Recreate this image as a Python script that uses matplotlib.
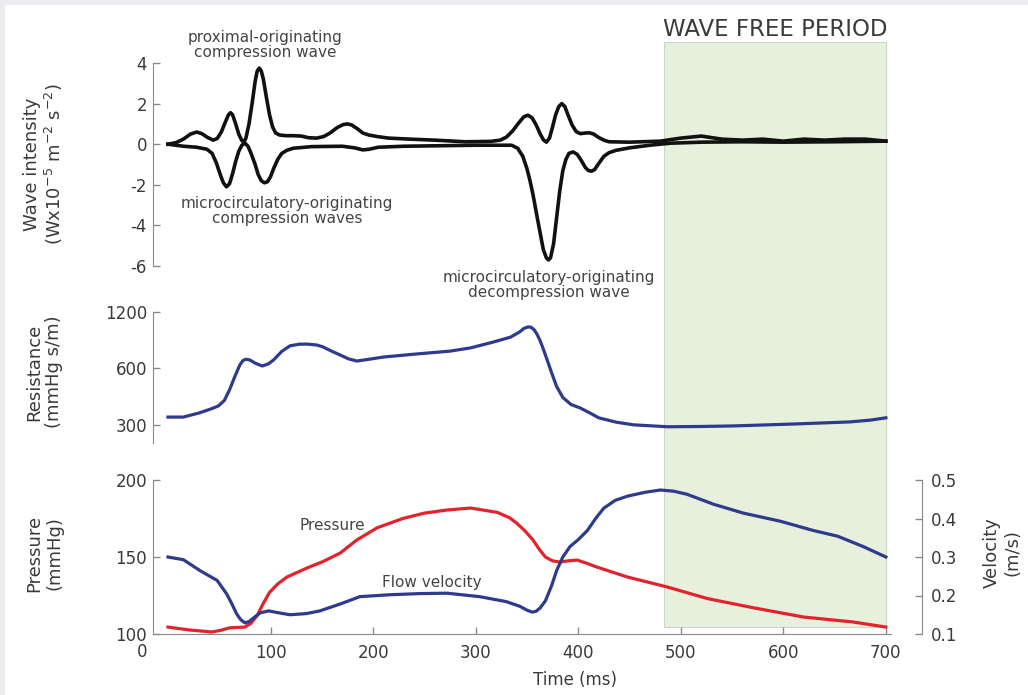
import matplotlib
matplotlib.use('Agg')
import matplotlib.pyplot as plt
from matplotlib.patches import Rectangle
from matplotlib.transforms import blended_transform_factory

# Wave intensity - forward (upper) trace, time in ms.
wi_up_t = [0, 8, 15, 22, 28, 33, 38, 44, 48, 52, 56, 59, 61, 63, 66, 69, 72, 74,
           76, 79, 82, 85, 87, 89, 91, 93, 96, 99, 102, 105, 109, 115, 122, 130,
           137, 145, 152, 158, 165, 171, 175, 179, 185, 190, 196, 205, 215, 236,
           260, 290, 315, 324, 330, 336, 342, 347, 351, 355, 359, 363, 366, 369,
           372, 375, 378, 381, 384, 387, 390, 394, 398, 402, 407, 411, 415, 420,
           425, 430, 450, 480, 500, 520, 540, 560, 580, 600, 620, 640, 660, 680,
           700]
wi_up = [0.0, 0.08, 0.25, 0.5, 0.6, 0.52, 0.35, 0.2, 0.28, 0.6, 1.1, 1.45, 1.55,
         1.45, 1.0, 0.5, 0.18, 0.1, 0.3, 1.0, 2.0, 3.1, 3.6, 3.75, 3.6, 3.2, 2.3,
         1.45, 0.85, 0.55, 0.45, 0.42, 0.42, 0.4, 0.32, 0.3, 0.38, 0.55, 0.82,
         0.97, 1.0, 0.95, 0.75, 0.55, 0.45, 0.37, 0.3, 0.25, 0.2, 0.12, 0.14, 0.2,
         0.35, 0.65, 1.05, 1.35, 1.43, 1.3, 0.95, 0.5, 0.22, 0.1, 0.3, 0.85, 1.45,
         1.85, 2.0, 1.85, 1.45, 0.95, 0.62, 0.52, 0.55, 0.56, 0.5, 0.33, 0.2, 0.12,
         0.1, 0.15, 0.3, 0.4, 0.25, 0.2, 0.25, 0.15, 0.25, 0.2, 0.25, 0.25, 0.15]

# Wave intensity - backward (lower) trace.
wi_dn_t = [0, 15, 28, 38, 43, 47, 51, 54, 57, 60, 63, 66, 69, 72, 75, 78, 81, 85,
           88, 91, 94, 97, 100, 103, 107, 111, 116, 122, 140, 170, 182, 190, 196,
           205, 230, 260, 300, 335, 341, 346, 350, 353, 356, 360, 363, 366, 369,
           371, 373, 376, 379, 382, 385, 388, 391, 395, 399, 403, 407, 410, 413,
           416, 420, 425, 430, 437, 450, 470, 490, 520, 560, 600, 650, 700]
wi_dn = [0.0, -0.1, -0.15, -0.25, -0.45, -0.9, -1.5, -1.9, -2.1, -1.95, -1.45,
         -0.85, -0.35, -0.05, 0.05, -0.1, -0.45, -1.0, -1.5, -1.8, -1.9, -1.85,
         -1.6, -1.2, -0.75, -0.45, -0.3, -0.2, -0.12, -0.1, -0.18, -0.28, -0.25,
         -0.15, -0.1, -0.08, -0.05, -0.05, -0.2, -0.6, -1.2, -1.8, -2.5, -3.6,
         -4.4, -5.2, -5.6, -5.7, -5.6, -4.9, -3.6, -2.3, -1.3, -0.75, -0.45, -0.38,
         -0.5, -0.8, -1.15, -1.3, -1.33, -1.25, -0.95, -0.6, -0.42, -0.3, -0.18,
         -0.05, 0.05, 0.1, 0.12, 0.1, 0.12, 0.15]

# Microvascular resistance.
res_t = [0, 15, 31, 42, 49, 55, 60, 65, 70, 73, 76, 80, 85, 92, 98, 103, 111, 119,
         128, 136, 145, 151, 160, 168, 176, 184, 195, 210, 243, 275, 295, 317,
         334, 343, 347, 351, 354, 357, 360, 363, 366, 370, 374, 379, 385, 393,
         402, 411, 420, 437, 454, 487, 520, 551, 585, 617, 665, 685, 700]
resistance = [330, 330, 348, 365, 378, 405, 461, 540, 625, 660, 672, 665, 640,
              618, 635, 666, 740, 792, 808, 809, 800, 782, 740, 707, 675, 657, 670,
              690, 717, 742, 772, 829, 881, 940, 980, 999, 995, 965, 910, 840, 760,
              660, 570, 480, 420, 385, 369, 348, 327, 310, 300, 293, 294, 296, 300,
              304, 311, 318, 327]

# Pressure (mmHg).
p_t = [0, 21, 43, 52, 60, 75, 81, 87, 93, 99, 107, 116, 136, 151, 168, 184, 204,
       229, 250, 272, 295, 321, 333, 340, 348, 356, 362, 368, 375, 382, 390, 399,
       408, 418, 448, 487, 526, 571, 620, 668, 700]
pressure = [104.5, 102.6, 101.3, 102.5, 104, 104.5, 107, 112, 120, 127, 132.5,
            137, 143, 147, 152.6, 161, 169, 175, 178.5, 180.5, 181.8, 179, 175.5,
            172, 167, 161, 155, 150, 147.5, 146.7, 147.5, 148, 146, 143.5, 137,
            130.5, 123, 117, 111, 107.8, 104.5]

# Flow velocity (m/s).
v_t = [0, 15, 31, 48, 57, 62, 67, 71, 75, 79, 84, 90, 98, 108, 119, 135, 148,
       168, 187, 217, 246, 272, 304, 330, 343, 350, 355, 359, 363, 368, 374, 379,
       385, 392, 400, 409, 417, 425, 436, 448, 465, 480, 493, 506, 532, 561, 597,
       629, 653, 678, 700]
velocity = [0.30, 0.293, 0.265, 0.239, 0.205, 0.18, 0.152, 0.137, 0.129, 0.132,
            0.143, 0.155, 0.16, 0.155, 0.15, 0.153, 0.16, 0.178, 0.197, 0.202,
            0.205, 0.206, 0.197, 0.184, 0.172, 0.162, 0.157, 0.159, 0.168, 0.186,
            0.225, 0.265, 0.3, 0.327, 0.345, 0.369, 0.40, 0.427, 0.447, 0.458,
            0.468, 0.474, 0.471, 0.463, 0.437, 0.414, 0.393, 0.369, 0.354, 0.327,
            0.30]

# Wave free period window (ms).
wfp_start, wfp_end = 484, 700

plt.rcParams['font.family'] = 'DejaVu Sans'
plt.rcParams['axes.unicode_minus'] = False

W, H = 1028, 695
fig = plt.figure(figsize=(W / 100, H / 100), dpi=100)
fig.patch.set_facecolor('#eaecef')
fig.add_artist(Rectangle((5 / W, 0), 1, 1 - 5 / H, transform=fig.transFigure,
                         facecolor='white', edgecolor='none', zorder=-2))

left, width = 152.6 / W, 738.4 / W
ax_top = fig.add_axes([left, 429 / H, width, 203 / H])
ax_mid = fig.add_axes([left, 252 / H, width, 131 / H])
ax_bot = fig.add_axes([left, 61 / H, width, 154 / H])
ax_vel = ax_bot.twinx()

blue = '#2e3a8c'
red = '#e2232b'
spine_c = '#8a8a8a'
text_c = '#3a3a3a'

for ax in (ax_top, ax_mid, ax_bot, ax_vel):
    ax.set_facecolor('none')
    ax.set_xlim(-15, 705)
    for side in ('top', 'right', 'bottom', 'left'):
        ax.spines[side].set_visible(False)
        ax.spines[side].set_color(spine_c)
    ax.tick_params(direction='in', length=5, width=1, color=spine_c,
                   labelcolor=text_c, labelsize=12, pad=4)

for ax in (ax_top, ax_mid):
    ax.spines['left'].set_visible(True)
    ax.tick_params(bottom=False, labelbottom=False)
ax_bot.spines['left'].set_visible(True)
ax_bot.spines['bottom'].set_visible(True)
ax_vel.spines['right'].set_visible(True)
ax_vel.spines['right'].set_position(('outward', 22))

# Wave free period shading across all panels.
trans = blended_transform_factory(ax_top.transData, fig.transFigure)
fig.add_artist(Rectangle((wfp_start, 68 / H), wfp_end - wfp_start, (627 - 42) / H,
                         transform=trans, facecolor='#e6f0dc', edgecolor='#cdd6c6',
                         linewidth=0.8, zorder=-1))
fig.text(775 / W, 1 - 30 / H, 'WAVE FREE PERIOD', ha='center', va='center',
         fontsize=16.5, color=text_c)

# Top panel: wave intensity.
ax_top.plot(wi_up_t, wi_up, color='#111111', lw=2.6, solid_joinstyle='round')
ax_top.plot(wi_dn_t, wi_dn, color='#111111', lw=2.6, solid_joinstyle='round')
ax_top.set_ylim(-6, 4)
ax_top.set_yticks([-6, -4, -2, 0, 2, 4])

# Middle panel: resistance (log scale).
ax_mid.plot(res_t, resistance, color=blue, lw=2.3, solid_joinstyle='round')
ax_mid.set_yscale('log')
ax_mid.set_ylim(240, 1200)
ax_mid.set_yticks([300, 600, 1200])
ax_mid.set_yticklabels(['300', '600', '1200'])
ax_mid.minorticks_off()

# Bottom panel: pressure and velocity.
ax_bot.plot(p_t, pressure, color=red, lw=2.3, solid_joinstyle='round')
ax_vel.plot(v_t, velocity, color=blue, lw=2.3, solid_joinstyle='round')
ax_bot.set_ylim(100, 200)
ax_bot.set_yticks([100, 150, 200])
ax_vel.set_ylim(0.1, 0.5)
ax_vel.set_yticks([0.1, 0.2, 0.3, 0.4, 0.5])
ax_vel.tick_params(pad=7)
ax_bot.set_xticks([100, 200, 300, 400, 500, 600, 700])
ax_bot.tick_params(axis='x', pad=7)
fig.text(142 / W, 1 - 652 / H, '0', ha='center', va='center', fontsize=12,
         color=text_c)
fig.text(575 / W, 1 - 680 / H, 'Time (ms)', ha='center', va='center',
         fontsize=12, color=text_c)

# Axis titles.
lab = dict(rotation=90, ha='center', va='center', fontsize=13, color=text_c,
           linespacing=1.15)
fig.text(44 / W, 1 - 164 / H, 'Wave intensity\n(Wx10$^{-5}$ m$^{-2}$ s$^{-2}$)', **lab)
fig.text(44 / W, 1 - 372 / H, 'Resistance\n(mmHg s/m)', **lab)
fig.text(44 / W, 1 - 553 / H, 'Pressure\n(mmHg)', **lab)
fig.text(1002 / W, 1 - 553 / H, 'Velocity\n(m/s)', **lab)

# Annotations.
ann = dict(ha='center', va='center', fontsize=11, color='#444444', linespacing=1.05)
fig.text(265 / W, 1 - 45 / H, 'proximal-originating\ncompression wave', **ann)
fig.text(287 / W, 1 - 211 / H, 'microcirculatory-originating\ncompression waves', **ann)
fig.text(549 / W, 1 - 285 / H, 'microcirculatory-originating\ndecompression wave', **ann)
fig.text(332 / W, 1 - 525 / H, 'Pressure', **ann)
fig.text(432 / W, 1 - 583 / H, 'Flow velocity', **ann)

fig.savefig('out.png', dpi=100, facecolor=fig.get_facecolor())
